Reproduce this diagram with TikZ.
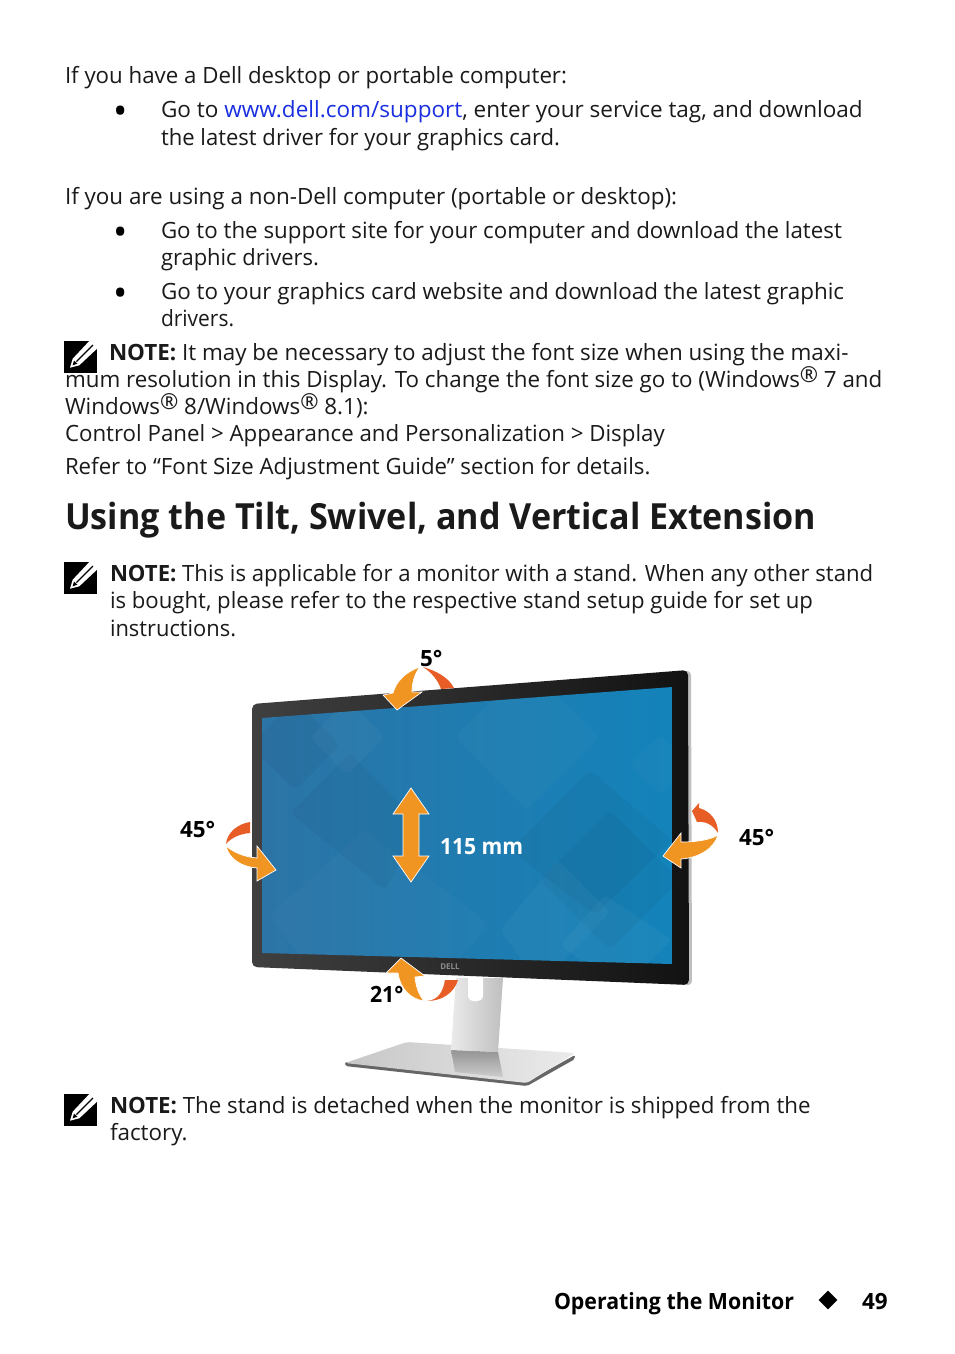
\documentclass[tikz,border=0pt]{standalone}
\usepackage{fontspec}
\usepackage{graphicx}
\setmainfont{Open Sans}
\usetikzlibrary{shapes.geometric}
\definecolor{arrorange}{HTML}{F09422}
\definecolor{arrred}{HTML}{E85D26}
\definecolor{linkblue}{HTML}{1A2FE0}
\definecolor{txt}{HTML}{1A1A1A}
\newcommand{\regm}{\raisebox{0.2em}{\fontsize{22}{22}\selectfont ®}}
\newcommand{\sx}[2]{\scalebox{#1}[1]{#2}}
\tikzset{
  x=1pt,y=-1pt,
  txtline/.style={anchor=base west,inner sep=0pt,outer sep=0pt,text=txt,font=\fontsize{22.4}{27}\selectfont},
  blt/.style={anchor=center,inner sep=0pt,outer sep=0pt,text=black,font=\fontsize{38}{38}\selectfont},
  lbl/.style={anchor=base west,inner sep=0pt,outer sep=0pt,text=black,font=\fontsize{22.4}{27}\selectfont\bfseries},
  arr/.style={fill=arrorange,draw=white,line width=0.7pt,line join=miter},
  diam/.style={rounded corners=6pt},
  notepic/.pic={
    \fill[black] (0,0) rectangle (33,32);
    \fill[white] (6,26.7) -- (8.7,17.7) -- (25.3,0) -- (33,0) -- (33,7.7) -- (15.3,24.3) -- cycle;
    \draw[black,line width=1.2pt] (12.5,20.5) -- (29,4);
    \fill[black] (8.6,24.4) -- (10,19.6) -- (13.4,22.6) -- cycle;
  }
}
\begin{document}
\begin{tikzpicture}
\useasboundingbox (0,0) rectangle (954,1354);
\fill[white] (0,0) rectangle (954,1354);

% body text
\node[txtline] (a1) at (65,84) {\sx{0.994}{If you have a Dell desktop or portable computer:}};
\node[blt] (b1) at (121,115) {•};
\node[txtline] (a2) at (161,117) {\sx{1.006}{Go to \textcolor{linkblue}{www.dell.com/support}, enter your service tag, and download}};
\node[txtline] (a3) at (161,145) {\sx{0.985}{the latest driver for your graphics card.}};
\node[txtline] (a4) at (65,204) {If you are using a non-Dell computer (portable or desktop):};
\node[blt] (b2) at (121,236) {•};
\node[txtline] (a5) at (161,238) {\sx{0.996}{Go to the support site for your computer and download the latest}};
\node[txtline] (a6) at (161,265) {\sx{0.98}{graphic drivers.}};
\node[blt] (b3) at (121,297) {•};
\node[txtline] (a7) at (161,299) {Go to your graphics card website and download the latest graphic};
\node[txtline] (a8) at (161,326) {\sx{0.936}{drivers.}};
\pic at (64,341) {notepic};
\node[txtline] (a9) at (109,360) {\textbf{NOTE:} It may be necessary to adjust the font size when using the maxi-};
\node[txtline] (a10) at (65,387) {\sx{0.998}{mum resolution in this Display. To change the font size go to (Windows\regm{} 7 and}};
\node[txtline] (a11) at (65,414) {Windows\regm{} 8/Windows\regm{} 8.1):};
\node[txtline] (a12) at (65,441) {\sx{0.995}{Control Panel > Appearance and Personalization > Display}};
\node[txtline] (a13) at (65,474) {\sx{0.993}{Refer to “Font Size Adjustment Guide” section for details.}};
\node[anchor=base west,inner sep=0pt,text=txt,font=\fontsize{36}{40}\selectfont\bfseries] (h1) at (65,529) {\sx{0.947}{Using the Tilt, Swivel, and Vertical Extension}};
\pic at (64,562) {notepic};
\node[txtline] (a14) at (110,581) {\sx{0.988}{\textbf{NOTE:} This is applicable for a monitor with a stand. When any other stand}};
\node[txtline] (a15) at (110,608) {\sx{0.989}{is bought, please refer to the respective stand setup guide for set up}};
\node[txtline] (a16) at (110,636) {\sx{0.977}{instructions.}};

% stand
\fill[black!60,rounded corners=2pt] (345,1062) -- (527,1082) -- (575,1055) -- (575,1059) -- (527,1086) -- (345,1066) -- cycle;
\shade[left color=black!22,right color=black!8,rounded corners=3pt] (407,1042) -- (575,1053) -- (527,1083) -- (345,1063) -- cycle;
\shade[top color=black!42,bottom color=black!20] (451,1050) -- (498,1052) -- (503,1077) -- (455,1072) -- cycle;
\shade[left color=black!8,right color=black!25] (456,978) -- (503,978) -- (498,1052) -- (451,1050) -- cycle;
\fill[white] (468,978) -- (483,978) -- (483,996) .. controls (483,1003) and (468,1003) .. (468,996) -- cycle;

% monitor
\fill[black!25,rounded corners=3pt] (684,670) -- (691,672) -- (692,984) -- (684,986) -- cycle;
\shade[left color=black!75,middle color=black!85,right color=black!93,rounded corners=5pt] (252,704) -- (688,670) -- (689,985) -- (252,967) -- cycle;
\begin{scope}
\clip (262,718) -- (672,687) -- (672,964) -- (262,953) -- cycle;
\shade[left color={rgb,255:red,44;green,116;blue,166},right color={rgb,255:red,19;green,131;blue,186}] (262,687) rectangle (672,964);
\fill[black,opacity=0.04,diam] (250,745) -- (295,700) -- (340,745) -- (295,790) -- cycle;
\fill[black,opacity=0.035,diam] (290,813) -- (350,753) -- (420,823) -- (385,890) -- cycle;
\fill[white,opacity=0.03,diam] (310,737) -- (347,700) -- (385,737) -- (347,775) -- cycle;
\fill[white,opacity=0.02,diam] (270,915) -- (365,830) -- (490,925) -- (420,1000) -- (330,1000) -- cycle;
\fill[white,opacity=0.025,diam] (455,737) -- (527,665) -- (600,737) -- (527,810) -- cycle;
\fill[black,opacity=0.035,diam] (510,850) -- (590,770) -- (672,840) -- (595,915) -- cycle;
\fill[black,opacity=0.035,diam] (540,880) -- (610,810) -- (680,880) -- (610,950) -- cycle;
\fill[white,opacity=0.03,diam] (500,930) -- (558,860) -- (610,912) -- (540,985) -- cycle;
\fill[white,opacity=0.035,diam] (560,945) -- (605,895) -- (672,940) -- (620,990) -- cycle;
\fill[white,opacity=0.025,diam] (630,765) -- (660,735) -- (690,765) -- (660,795) -- cycle;
\end{scope}
\node[inner sep=0pt,text=black!45,font=\fontsize{8}{8}\selectfont\bfseries] (dell) at (450,967) {DELL};

% tilt up 5
\fill[arrred] (423,667) .. controls (437,671) and (449,678) .. (454,688) -- (441,689) .. controls (438,680) and (431,672) .. (423,667) -- cycle;
\path[arr] (420,667) .. controls (405,672) and (396,682) .. (393,693) -- (383,695) -- (397,710) -- (422,692) -- (412,692) .. controls (412,682) and (415,673) .. (420,667) -- cycle;
\coordinate (vt) at (411,788);
\path[arr] (vt) -- (429,814) -- (419,814) -- (419,856) -- (429,856) -- (411,882) -- (393,856) -- (403,856) -- (403,814) -- (393,814) -- cycle;

% swivel left
\fill[arrred] (226,844) .. controls (227,833) and (237,824) .. (250,822) -- (250,833) .. controls (239,834) and (231,838) .. (226,844) -- cycle;
\path[arr] (226,846) .. controls (229,859) and (242,867) .. (257,868) -- (257,881) -- (276,870) -- (257,846) -- (257,858) .. controls (244,857) and (233,852) .. (226,846) -- cycle;

% swivel right
\fill[arrred] (692,811) -- (699,803) -- (699,808) .. controls (710,811) and (718,820) .. (718,833) .. controls (713,825) and (706,821) .. (697,822) -- cycle;
\path[arr] (718,835) .. controls (710,840) and (696,842) .. (681,842) -- (681,833) -- (663,856) -- (681,868) -- (681,859) .. controls (698,858) and (714,849) .. (718,835) -- cycle;

% tilt down 21
\fill[arrred] (427,1001) .. controls (438,1000) and (443,992) .. (445,980) -- (458,980) .. controls (454,993) and (442,1001) .. (427,1001) -- cycle;
\path[arr] (424,1001) .. controls (410,999) and (400,988) .. (398,973) -- (386,973) -- (401,958) -- (425,976) -- (415,977) .. controls (416,987) and (419,995) .. (424,1001) -- cycle;

% labels
\node[lbl] (l5) at (420,666) {5°};
\node[lbl] (l45a) at (180,837) {45°};
\node[lbl] (l45b) at (739,845) {45°};
\node[lbl] (l21) at (370,1002) {\sx{0.95}{21°}};
\node[lbl,text=white] (l115) at (440,854) {\sx{0.943}{115 mm}};

% lower note
\pic at (64,1094) {notepic};
\node[txtline] (a17) at (110,1113) {\sx{0.996}{\textbf{NOTE:} The stand is detached when the monitor is shipped from the}};
\node[txtline] (a18) at (110,1140) {factory.};

% footer
\node[lbl] (f1) at (554,1309) {\sx{0.952}{Operating the Monitor}};
\node[diamond,fill=black,inner sep=0pt,minimum width=19pt,minimum height=19pt] (fd) at (828,1300) {};
\node[lbl] (f2) at (862,1309) {49};
\end{tikzpicture}
\end{document}
